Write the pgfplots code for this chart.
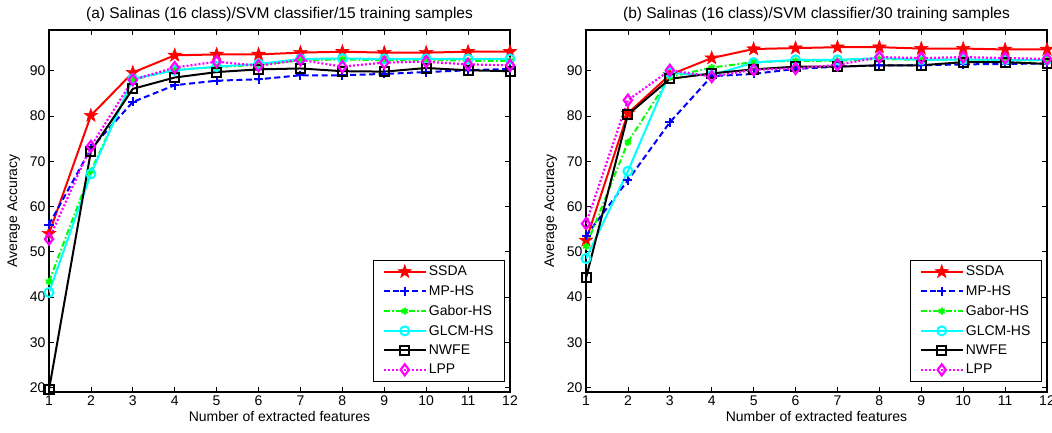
\documentclass[border=0pt]{standalone}
\usepackage{fontspec}
\setmainfont{Liberation Sans}
\usepackage{pgfplots}
\usepackage{pgfplotstable}
\pgfplotsset{compat=1.18}

\definecolor{mred}{RGB}{255,0,0}
\definecolor{mblue}{RGB}{0,0,255}
\definecolor{mgreen}{RGB}{0,255,0}
\definecolor{mcyan}{RGB}{0,255,255}
\definecolor{mmag}{RGB}{255,0,255}

% filled five-pointed star, like matlab's pentagram
\pgfdeclareplotmark{pentastar}{%
  \pgfpathmoveto{\pgfpointpolar{90}{\pgfplotmarksize}}%
  \pgfpathlineto{\pgfpointpolar{126}{0.4\pgfplotmarksize}}%
  \pgfpathlineto{\pgfpointpolar{162}{\pgfplotmarksize}}%
  \pgfpathlineto{\pgfpointpolar{198}{0.4\pgfplotmarksize}}%
  \pgfpathlineto{\pgfpointpolar{234}{\pgfplotmarksize}}%
  \pgfpathlineto{\pgfpointpolar{270}{0.4\pgfplotmarksize}}%
  \pgfpathlineto{\pgfpointpolar{306}{\pgfplotmarksize}}%
  \pgfpathlineto{\pgfpointpolar{342}{0.4\pgfplotmarksize}}%
  \pgfpathlineto{\pgfpointpolar{18}{\pgfplotmarksize}}%
  \pgfpathlineto{\pgfpointpolar{54}{0.4\pgfplotmarksize}}%
  \pgfpathclose
  \pgfusepathqfillstroke
}

\pgfplotstableread{
x ssda mp gabor glcm nwfe lpp
1  54.0 56.0 43.4 41.0 19.5 52.8
2  80.1 72.8 67.8 67.2 72.2 73.3
3  89.6 83.1 88.0 88.2 86.0 88.0
4  93.4 86.8 90.2 90.1 88.5 90.7
5  93.6 87.8 90.8 90.9 89.7 92.0
6  93.6 88.1 91.3 91.5 90.3 91.1
7  94.0 89.0 92.3 92.6 90.5 92.4
8  94.2 89.0 92.5 92.7 89.9 90.9
9  94.0 89.3 92.3 92.6 89.8 91.8
10 94.0 89.7 92.4 92.6 90.6 92.0
11 94.2 90.1 92.2 92.6 90.1 91.4
12 94.2 90.4 92.2 92.6 89.9 91.2
}\tabA

\pgfplotstableread{
x ssda mp gabor glcm nwfe lpp
1  52.5 53.5 51.2 48.5 44.2 56.2
2  80.6 65.8 74.2 67.8 80.3 83.5
3  89.1 78.6 88.6 89.5 88.2 90.1
4  92.8 88.8 90.7 89.0 89.4 88.7
5  94.8 89.3 91.9 91.8 90.3 90.2
6  95.0 90.4 92.2 92.4 90.9 90.5
7  95.2 90.9 92.2 92.4 90.9 91.3
8  95.2 91.2 92.6 92.8 91.2 93.0
9  94.9 91.2 92.4 92.4 91.2 92.8
10 94.9 91.4 92.5 92.5 91.9 93.0
11 94.7 91.5 92.3 92.4 91.9 92.8
12 94.7 91.6 92.3 92.4 91.5 92.6
}\tabB

\newcommand{\fs}{\fontsize{14}{16}\selectfont}

\pgfplotsset{
  panel/.style={
    scale only axis, width=461pt, height=362pt,
    xmin=1, xmax=12, ymin=19, ymax=99,
    xtick={1,...,12}, ytick={20,30,...,90},
    tick align=inside, major tick length=5pt,
    every tick/.style={black, line width=0.8pt},
    axis line style={line width=1.3pt},
    /pgf/number format/assume math mode=true,
    tick label style={font=\fs},
    label style={font=\fs},
    title style={font=\fontsize{15.5}{17}\selectfont, yshift=-1pt},
    xlabel={Number of extracted features},
    ylabel={Average Accuracy},
    xlabel style={yshift=1pt},
    ylabel style={yshift=3pt},
    legend style={at={(rel axis cs:0.989,0.028)}, anchor=south east,
      font=\fs, draw=black, line width=1pt,
      cells={anchor=west}, row sep=4.3pt, inner xsep=9pt, inner ysep=4pt},
    legend image code/.code={%
      \draw[mark repeat=2, mark phase=2, ##1]
        plot coordinates {(0pt,0pt) (21pt,0pt) (42pt,0pt)};},
  },
  s1/.style={mred, line width=2pt, solid, mark=pentastar, mark size=7pt, mark options={fill=mred, line width=0.6pt}},
  s2/.style={mblue, line width=2pt, dash pattern=on 6pt off 3.5pt, mark=+, mark size=4.5pt, mark options={solid}},
  s3/.style={mgreen, line width=2pt, dash pattern=on 6pt off 2.5pt on 1.5pt off 2.5pt, mark=asterisk, mark size=3.5pt, mark options={solid}},
  s4/.style={mcyan, line width=2pt, solid, mark=o, mark size=4.5pt},
  s5/.style={black, line width=2pt, solid, mark=square, mark size=4.5pt},
  s6/.style={mmag, line width=2.2pt, dash pattern=on 2pt off 2pt, mark=diamond, mark size=5.5pt, mark options={solid}},
}

\begin{document}
\begin{tikzpicture}
\begin{axis}[panel, title={(a) Salinas (16 class)/SVM classifier/15 training samples}]
\addplot[s1] table[x=x, y=ssda] {\tabA};
\addplot[s2] table[x=x, y=mp] {\tabA};
\addplot[s3] table[x=x, y=gabor] {\tabA};
\addplot[s4] table[x=x, y=glcm] {\tabA};
\addplot[s5] table[x=x, y=nwfe] {\tabA};
\addplot[s6] table[x=x, y=lpp] {\tabA};
\legend{SSDA, MP-HS, Gabor-HS, GLCM-HS, NWFE, LPP}
\end{axis}
\begin{axis}[panel, at={(537pt,0pt)}, title={(b) Salinas (16 class)/SVM classifier/30 training samples}]
\addplot[s1] table[x=x, y=ssda] {\tabB};
\addplot[s2] table[x=x, y=mp] {\tabB};
\addplot[s3] table[x=x, y=gabor] {\tabB};
\addplot[s4] table[x=x, y=glcm] {\tabB};
\addplot[s5] table[x=x, y=nwfe] {\tabB};
\addplot[s6] table[x=x, y=lpp] {\tabB};
\legend{SSDA, MP-HS, Gabor-HS, GLCM-HS, NWFE, LPP}
\end{axis}
\pgfresetboundingbox
\path[use as bounding box] (-49pt,-40pt) rectangle (1003pt,392pt);
\end{tikzpicture}
\end{document}
